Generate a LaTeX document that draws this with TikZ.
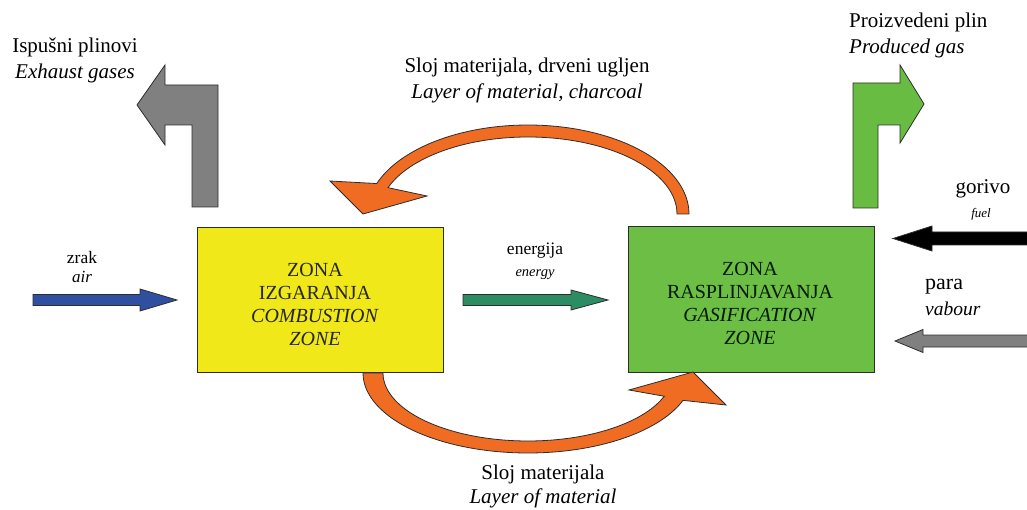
\documentclass[tikz,border=0pt]{standalone}
\usepackage{fontspec}
\setmainfont{Liberation Serif}
\definecolor{zoneyellow}{RGB}{240,232,24}
\definecolor{zonegreen}{RGB}{108,190,69}
\definecolor{gasgreen}{RGB}{104,188,66}
\definecolor{flowor}{RGB}{240,108,34}
\definecolor{airblue}{RGB}{47,80,160}
\definecolor{energyteal}{RGB}{44,140,100}
\definecolor{exgray}{RGB}{128,128,128}
\definecolor{edge}{RGB}{45,45,45}
\begin{document}
\begin{tikzpicture}[x=1pt,y=-1pt,
  lbl/.style={font=\fontsize{21}{26}\selectfont, align=center, inner sep=0pt},
  zonebox/.style={draw=edge, line width=1pt, minimum width=246pt, minimum height=145pt, inner sep=0pt},
  zonetext/.style={align=center, inner sep=0pt, font=\fontsize{20}{23}\selectfont, text=black!85},
  blockarrow/.style={draw=edge, line width=0.8pt, line join=miter},
  orangeband/.style={fill=flowor, draw=edge, line width=0.8pt, line join=miter}]
\useasboundingbox (0,0) rectangle (1027,510);

% zones
\node[zonebox, fill=zoneyellow] (comb) at (320,300) {};
\node[zonetext] (combtxt) at ([shift={(-5pt,-4pt)}]comb.center)
  {ZONA\\IZGARANJA\\\textit{COMBUSTION}\\\textit{ZONE}};
\node[zonebox, fill=zonegreen] (gasif) at (751,299.5) {};
\node[zonetext, text=black!75!green!40!black] (gasiftxt) at ([shift={(-1pt,-4pt)}]gasif.center)
  {ZONA\\RASPLINJAVANJA\\\textit{GASIFICATION}\\\textit{ZONE}};

% exhaust gases (gray L arrow)
\filldraw[blockarrow, fill=exgray] (192,207) -- (192,125) -- (165,125) -- (165,145)
  -- (137,105) -- (165,65) -- (165,85) -- (218,85) -- (218,207) -- cycle;
\node[lbl] (exh) at (75,60) {Ispušni plinovi\\\textit{Exhaust gases}};

% produced gas (green L arrow)
\filldraw[blockarrow, fill=gasgreen] (853,208) -- (853,83) -- (900,83) -- (900,65)
  -- (924,104) -- (900,143) -- (900,125) -- (878,125) -- (878,208) -- cycle;
\node[lbl, align=left, anchor=west] (prod) at (849,35) {Proizvedeni plin\\\textit{Produced gas}};

% air
\filldraw[blockarrow, fill=airblue] (33,294.5) -- (140,294.5) -- (140,289) -- (177,300)
  -- (140,311) -- (140,305.5) -- (33,305.5) -- cycle;
\node[lbl, font=\fontsize{17.5}{18}\selectfont] (zrak) at (82,258) {zrak};
\node[lbl, font=\itshape\fontsize{17}{17}\selectfont] (air) at (82,277) {air};

% energy
\filldraw[blockarrow, fill=energyteal] (463,294.5) -- (571,294.5) -- (571,290) -- (608,300)
  -- (571,310) -- (571,305.5) -- (463,305.5) -- cycle;
\node[lbl, font=\fontsize{17.5}{18}\selectfont] (energ) at (535,251) {energija};
\node[lbl, font=\itshape\fontsize{14.5}{15}\selectfont] (energy) at (535,275) {energy};

% fuel
\filldraw[blockarrow, fill=black] (1030,232) -- (932,232) -- (932,226) -- (893,238.5)
  -- (932,251) -- (932,245) -- (1030,245) -- cycle;
\node[lbl] (gorivo) at (983,189) {gorivo};
\node[lbl, font=\itshape\fontsize{13}{13}\selectfont] (fuel) at (981,214) {fuel};

% vapour
\filldraw[blockarrow, fill=exgray] (1030,335) -- (923,335) -- (923,329.5) -- (895,341)
  -- (923,352.5) -- (923,347) -- (1030,347) -- cycle;
\node[lbl, anchor=west, font=\fontsize{22}{22}\selectfont] (para) at (925,287) {para};
\node[lbl, anchor=west, font=\itshape\fontsize{19.5}{20}\selectfont] (vabour) at (925,309) {vabour};

% upper orange curved arrow (gasification -> combustion)
\filldraw[orangeband]
  plot[smooth, domain=0:160, samples=41, variable=\t] ({528+161*cos(\t)},{214-89*sin(\t)})
  -- (330,181) -- (363,214) -- (427,196)
  -- plot[smooth, domain=160:0, samples=41, variable=\t] ({528+149*cos(\t)},{214-77*sin(\t)})
  -- cycle;
\node[lbl] (top) at (527,80) {Sloj materijala, drveni ugljen\\\textit{Layer of material, charcoal}};

% lower orange curved arrow (combustion -> gasification)
\filldraw[orangeband]
  plot[smooth, domain=180:20, samples=41, variable=\t] ({528+165*cos(\t)},{373+80*sin(\t)})
  -- (726,405) -- (693,372) -- (629,390)
  -- plot[smooth, domain=20:180, samples=41, variable=\t] ({528+145*cos(\t)},{373+68*sin(\t)})
  -- cycle;
\node[lbl, font=\fontsize{21}{24}\selectfont] (bot) at (543,486) {Sloj materijala\\\textit{Layer of material}};
\end{tikzpicture}
\end{document}
